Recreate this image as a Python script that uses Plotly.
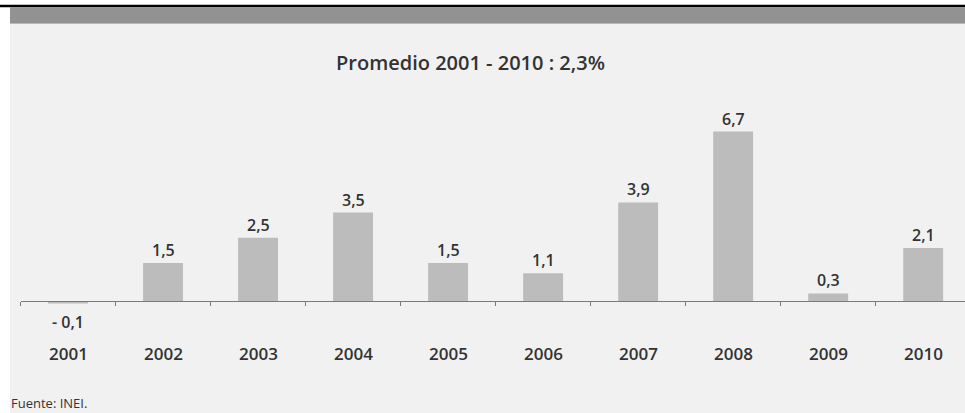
import plotly.graph_objects as go

# Crecimiento anual (%)
years = ["2001", "2002", "2003", "2004", "2005", "2006", "2007", "2008", "2009", "2010"]
growth = [-0.1, 1.5, 2.5, 3.5, 1.5, 1.1, 3.9, 6.7, 0.3, 2.1]
title_text = "Promedio 2001 - 2010 : 2,3%"
source_text = "Fuente: INEI."

W, H = 965, 413
FONT = "Open Sans"
TXT = "#333333"
WEIGHT = 600

pos = list(range(len(years)))


def fmt(v):
    s = f"{abs(v):.1f}".replace(".", ",")
    return f"- {s}" if v < 0 else s


# pixel helpers (figure fraction, origin bottom-left)
def fx(px):
    return px / W


def fy(py):
    return (H - py) / H


fig = go.Figure(
    go.Bar(
        x=pos,
        y=growth,
        width=0.42,
        marker=dict(color="#bcbcbc", line=dict(width=0)),
        hoverinfo="skip",
    )
)

annotations = []
for i, (yr, v) in enumerate(zip(years, growth)):
    if v >= 0:
        annotations.append(dict(
            x=i, y=v, xref="x", yref="y", text=fmt(v), showarrow=False,
            yanchor="bottom", yshift=0,
            font=dict(family=FONT, size=16, color=TXT, weight=WEIGHT),
        ))
    else:
        annotations.append(dict(
            x=i, y=0, xref="x", yref="y", text=fmt(v), showarrow=False,
            yanchor="middle", yshift=-21,
            font=dict(family=FONT, size=16, color=TXT, weight=WEIGHT),
        ))
    # category label under the axis
    annotations.append(dict(
        x=i, y=fy(353), xref="x", yref="paper", text=yr, showarrow=False,
        yanchor="middle", font=dict(family=FONT, size=17, color=TXT, weight=WEIGHT),
    ))

annotations.append(dict(
    x=fx(470), y=fy(62), xref="paper", yref="paper", text=title_text,
    showarrow=False, xanchor="center", yanchor="middle",
    font=dict(family=FONT, size=20, color=TXT, weight=WEIGHT),
))
annotations.append(dict(
    x=fx(9), y=fy(403), xref="paper", yref="paper", text=source_text,
    showarrow=False, xanchor="left", yanchor="middle",
    font=dict(family=FONT, size=13, color=TXT),
))

shapes = [
    # panel background
    dict(type="rect", xref="paper", yref="paper", x0=fx(10), x1=1.0,
         y0=0, y1=fy(23), fillcolor="#f1f1f1", line=dict(width=0), layer="below"),
    # header band
    dict(type="rect", xref="paper", yref="paper", x0=fx(10), x1=1.0,
         y0=fy(23), y1=fy(7.5), fillcolor="#929292", line=dict(width=0), layer="below"),
    dict(type="line", xref="paper", yref="paper", x0=fx(10), x1=1.0,
         y0=fy(23.5), y1=fy(23.5), line=dict(color="#b8b8b8", width=1), layer="below"),
    # top rule
    dict(type="line", xref="paper", yref="paper", x0=0, x1=1.0,
         y0=fy(6), y1=fy(6), line=dict(color="#000000", width=2.5), layer="below"),
]

fig.update_layout(
    width=W, height=H,
    margin=dict(l=0, r=0, t=0, b=0),
    paper_bgcolor="#ffffff",
    plot_bgcolor="rgba(0,0,0,0)",
    showlegend=False,
    annotations=annotations,
    shapes=shapes,
    xaxis=dict(
        domain=[fx(20.5), 1.0],
        range=[-0.5, 9.44],
        anchor="free",
        position=fy(301),
        showline=True, linecolor="#7a7a7a", linewidth=1.3,
        ticks="outside", ticklen=4, tickwidth=1, tickcolor="#7a7a7a",
        tickmode="array",
        tickvals=[p - 0.5 for p in pos] + [pos[-1] + 0.5],
        showticklabels=False,
        showgrid=False, zeroline=False,
    ),
    yaxis=dict(
        domain=[fy(320), fy(100)],
        range=[-0.75, 7.95],
        visible=False,
        showgrid=False, zeroline=False,
    ),
)

fig.write_html("out.html")
